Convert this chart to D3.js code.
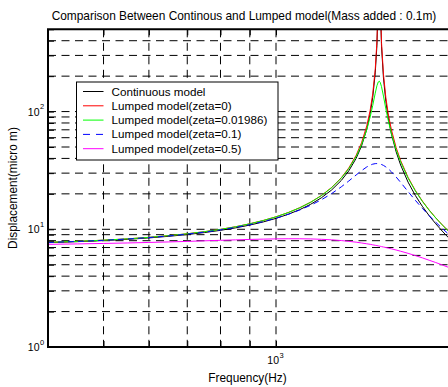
<!DOCTYPE html>
<html>
<head>
<meta charset="utf-8">
<script src="https://cdn.jsdelivr.net/npm/d3@7"></script>
<style>
  html, body { margin: 0; padding: 0; background: #fff; }
  svg { display: block; font-family: "Liberation Sans", Arial, sans-serif; }
</style>
</head>
<body>
<svg id="chart" width="448" height="387"></svg>
<script>
// ---- data ----
const titleText = "Comparison Between Continous and Lumped model(Mass added : 0.1m)";
const xLabel = "Frequency(Hz)";
const yLabel = "Displacement(micro m)";
const xTickValues = [1000];
const xTickExp = ["3"];
const yTickValues = [1, 10, 100];
const yTickExp = ["0", "1", "2"];
const seriesNames = ["Continuous model", "Lumped model(zeta=0)", "Lumped model(zeta=0.01986)", "Lumped model(zeta=0.1)", "Lumped model(zeta=0.5)"];
const seriesColors = ["#000000", "#ff0000", "#00ff00", "#0000ff", "#ff00ff"];
const seriesDash = [null, null, null, "6,4", null];

const freq = [400,450,500,550,600,650,700,750,800,850,900,950,1000,
  1050,1100,1150,1200,1250,1300,
  1340,1380,1410,1440,1460,1475,1490,1500,1508,1514,
  1520,1528,1540,1555,1570,1590,1620,1650,
  1700,1750,1800,1850,1900,1950,2000];
const continuous = [7.70,7.85,8.02,8.21,8.45,8.72,9.02,9.38,9.80,10.28,10.86,11.55,12.38,
  13.40,14.69,16.33,18.52,21.54,26.00,
  31.42,40.07,50.97,70.69,96.0,132.1,213.1,364.4,848,18600,
  847,359.5,193.0,121.4,88.4,64.57,45.71,35.17,
  25.17,19.42,15.69,13.07,11.14,9.66,8.48];
const lumped0 = [7.74,7.90,8.08,8.29,8.54,8.83,9.16,9.54,9.99,10.51,11.14,11.88,12.77,
  13.87,15.25,17.02,19.37,22.62,27.41,
  33.24,42.55,54.26,75.47,102.7,141.5,228.6,391.3,911,20000,
  911,387.1,208.1,131.1,95.6,69.97,49.69,38.36,
  27.61,21.42,17.41,14.60,12.52,10.93,9.66];
const lumped01986 = [7.74,7.90,8.08,8.29,8.54,8.83,9.16,9.54,9.98,10.50,11.13,11.87,12.76,
  13.85,15.22,16.98,19.30,22.50,27.18,
  32.81,41.61,52.26,70.17,90.13,112.6,143.4,165.7,178.4,181.3,
  177.1,162.9,135.4,105.3,83.89,64.85,47.68,37.38,
  27.21,21.23,17.30,14.53,12.48,10.89,9.64];
const lumped01 = [7.73,7.88,8.06,8.27,8.50,8.78,9.10,9.46,9.88,10.38,10.95,11.63,12.44,
  13.40,14.58,16.02,17.81,20.08,22.94,
  25.74,28.95,31.48,33.83,35.09,35.75,36.12,36.18,36.12,36.00,
  35.83,35.52,34.89,33.86,32.63,30.78,27.86,25.03,
  20.92,17.65,15.09,13.08,11.48,10.18,9.11];
const lumped05 = [7.45,7.51,7.58,7.65,7.73,7.81,7.89,7.98,8.06,8.13,8.20,8.25,8.29,
  8.31,8.31,8.28,8.22,8.14,8.02,
  7.90,7.77,7.65,7.53,7.45,7.38,7.31,7.27,7.23,7.20,
  7.17,7.13,7.07,7.00,6.92,6.82,6.67,6.51,
  6.25,5.98,5.72,5.46,5.22,4.98,4.75];
const seriesValues = [continuous, lumped0, lumped01986, lumped01, lumped05];

// ---- layout ----
const L = 48, T = 29.3, B = 347, R = 448.5;
const svg = d3.select("#chart");
svg.append("rect").attr("width", 448).attr("height", 387).attr("fill", "#fff");

const x = d3.scaleLog().domain([400, 2000]).range([L, R]);
const y = d3.scaleLog().domain([1, 500]).range([B, T]);

// scale a text element so that its width matches the width seen in the reference
function fitWidth(sel, target) {
  const len = sel.node().getComputedTextLength();
  const fs = parseFloat(sel.attr("font-size"));
  if (len > 0) sel.attr("font-size", (fs * target / len).toFixed(2));
  return sel;
}

svg.append("defs").append("clipPath").attr("id", "plotclip")
  .append("rect").attr("x", L).attr("y", T).attr("width", R - L).attr("height", B - T);

// grid
const xGrid = [500, 600, 700, 800, 900, 1000, 2000];
const yGrid = [];
[1, 10, 100].forEach(d => { for (let k = 1; k < 10; k++) { const v = d * k; if (v <= 500) yGrid.push(v); } });
const grid = svg.append("g").attr("clip-path", "url(#plotclip)");
grid.selectAll("line.gx").data(xGrid).join("line")
  .attr("x1", d => x(d)).attr("x2", d => x(d)).attr("y1", T).attr("y2", B)
  .attr("stroke", "#000").attr("stroke-width", 1).attr("stroke-dasharray", "8,5.5");
grid.selectAll("line.gy").data(yGrid.filter(v => v > 1)).join("line")
  .attr("x1", L).attr("x2", R).attr("y1", d => y(d)).attr("y2", d => y(d))
  .attr("stroke", "#000").attr("stroke-width", 1).attr("stroke-dasharray", "8,5.5");

// curves
const line = d3.line().x(d => x(d[0])).y(d => y(d[1]));
const curves = svg.append("g").attr("clip-path", "url(#plotclip)");
seriesValues.forEach((vals, i) => {
  curves.append("path")
    .datum(freq.map((f, j) => [f, vals[j]]))
    .attr("d", line)
    .attr("fill", "none")
    .attr("stroke", seriesColors[i])
    .attr("stroke-width", 1)
    .attr("stroke-dasharray", seriesDash[i]);
});

// axes (ticks inside)
const yAxis = d3.axisRight(y).tickValues(yGrid).tickSize(6).tickFormat("");
svg.append("g").attr("transform", `translate(${L},0)`).call(yAxis)
  .call(g => g.select(".domain").remove());
const xAxis = d3.axisTop(x).tickValues(xGrid).tickSize(6).tickFormat("");
svg.append("g").attr("transform", `translate(0,${B})`).call(xAxis)
  .call(g => g.select(".domain").remove());
const xAxisTop = d3.axisBottom(x).tickValues(xGrid).tickSize(6).tickFormat("");
svg.append("g").attr("transform", `translate(0,${T})`).call(xAxisTop)
  .call(g => g.select(".domain").remove());

// frame
svg.append("line").attr("x1", L).attr("x2", L).attr("y1", T).attr("y2", B).attr("stroke", "#000").attr("stroke-width", 2);
svg.append("line").attr("x1", L - 1).attr("x2", R).attr("y1", B).attr("y2", B).attr("stroke", "#000").attr("stroke-width", 2);
svg.append("line").attr("x1", L - 1).attr("x2", R).attr("y1", T).attr("y2", T).attr("stroke", "#000").attr("stroke-width", 2);

// tick labels
yTickValues.forEach((v, i) => {
  svg.append("text").attr("x", 39.5).attr("y", y(v) + 4)
    .attr("text-anchor", "end").attr("font-size", 10.5).attr("fill", "#000").text("10");
  svg.append("text").attr("x", 40).attr("y", y(v) - 2.5)
    .attr("font-size", 7.5).attr("fill", "#000").text(yTickExp[i]);
});
xTickValues.forEach((v, i) => {
  svg.append("text").attr("x", x(v) + 3).attr("y", 364)
    .attr("text-anchor", "end").attr("font-size", 10.5).attr("fill", "#000").text("10");
  svg.append("text").attr("x", x(v) + 3.5).attr("y", 357.5)
    .attr("font-size", 7.5).attr("fill", "#000").text(xTickExp[i]);
});

// labels
fitWidth(svg.append("text").attr("x", 244).attr("y", 19.5).attr("text-anchor", "middle")
  .attr("font-size", 11).attr("fill", "#000").text(titleText), 385);
const xl = fitWidth(svg.append("text").attr("x", 247.5).attr("y", 381.5).attr("text-anchor", "middle")
  .attr("font-size", 11).attr("fill", "#000").text(xLabel), 78.4);
svg.append("text").attr("transform", "translate(16.5,188) rotate(-90)").attr("text-anchor", "middle")
  .attr("font-size", xl.attr("font-size")).attr("fill", "#000").text(yLabel);

// legend
const lg = svg.append("g");
lg.append("rect").attr("x", 76.5).attr("y", 82).attr("width", 201.5).attr("height", 78)
  .attr("fill", "#fff").attr("stroke", "#000").attr("stroke-width", 1);
let legendFont = null;
seriesNames.forEach((name, i) => {
  const cy = 91.5 + i * 14.3;
  lg.append("line").attr("x1", 83).attr("x2", 103.5).attr("y1", cy).attr("y2", cy)
    .attr("stroke", seriesColors[i]).attr("stroke-width", 1)
    .attr("stroke-dasharray", seriesDash[i] ? "7,6" : null);
  const t = lg.append("text").attr("x", 111.5).attr("y", cy + 4).attr("font-size", 11)
    .attr("fill", "#000").text(name);
  if (i === 2) legendFont = fitWidth(t, 156).attr("font-size");
});
lg.selectAll("text").attr("font-size", legendFont);
</script>
</body>
</html>
